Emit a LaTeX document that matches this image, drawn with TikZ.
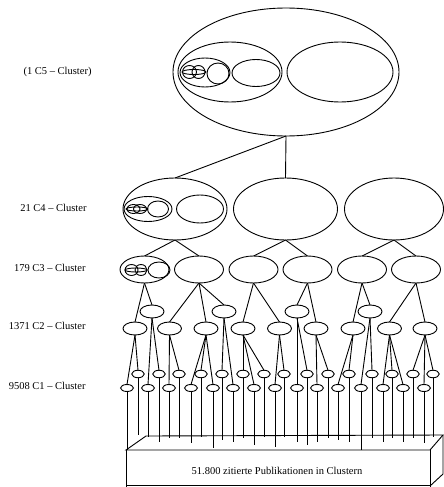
\documentclass[tikz,border=0pt]{standalone}
\usepackage{fontspec}
\setmainfont{Liberation Serif}
\usetikzlibrary{shapes.geometric}
\begin{document}
\begin{tikzpicture}[x=1pt,y=-1pt,line width=0.9pt,
  cl/.style={draw, ellipse, inner sep=0pt, outer sep=0pt},
  cfive/.style={cl, minimum width=226pt, minimum height=128pt},
  cfour/.style={cl, minimum width=104pt, minimum height=62pt},
  cthree/.style={cl, minimum width=49pt, minimum height=27pt},
  ctwo/.style={cl, minimum width=24pt, minimum height=13pt},
  cone/.style={cl, minimum width=12.5pt, minimum height=7.5pt},
  lab/.style={font=\fontsize{10.5}{12}\selectfont, anchor=east, inner sep=0pt},
  boxtxt/.style={font=\fontsize{10.5}{12}\selectfont, inner sep=0pt}]
\useasboundingbox (0,0) rectangle (444,487);

% ---------- labels
\node[lab] (t5) at (92,72) {(1 C5 -- Cluster)};
\node[lab] (t4) at (87,208) {21 C4 -- Cluster};
\node[lab] (t3) at (86,268) {179 C3 -- Cluster};
\node[lab] (t2) at (86,326) {1371 C2 -- Cluster};
\node[lab] (t1) at (86,386) {9508 C1 -- Cluster};

% ---------- C5
\node[cfive] (c5) at (286,72) {};
\draw (230,72) ellipse [x radius=52pt, y radius=30pt];
\draw (340,72) ellipse [x radius=53pt, y radius=30pt];
\draw (205,72.5) ellipse [x radius=25pt, y radius=14.5pt];
\draw (256,73) ellipse [x radius=24pt, y radius=13.5pt];
\draw (218,73.5) ellipse [x radius=11pt, y radius=10.5pt];
\draw (189.5,72) ellipse [x radius=7pt, y radius=6.5pt];
\draw (198.5,72) ellipse [x radius=6.5pt, y radius=6.5pt];
\draw (194,72) ellipse [x radius=12pt, y radius=2.5pt];

% ---------- C4
\node[cfour] (c4a) at (175,209) {};
\node[cfour] (c4b) at (285.5,209) {};
\node[cfour, minimum width=99pt] (c4c) at (394,209) {};
\draw (148,209) ellipse [x radius=24pt, y radius=12.5pt];
\draw (200,209) ellipse [x radius=23.5pt, y radius=14pt];
\draw (158,209) ellipse [x radius=10.5pt, y radius=8pt];
\draw (133.5,209) ellipse [x radius=6.5pt, y radius=4.5pt];
\draw (140,209) ellipse [x radius=6.5pt, y radius=4.5pt];
\draw (137,209) ellipse [x radius=11pt, y radius=2pt];

% ---------- C3
\foreach \x/\n in {144.5/a,199/b,253.5/c,307.5/d,362/e,416/f}
  \node[cthree] (c3\n) at (\x,269.5) {};
\draw (159,270) ellipse [x radius=11pt, y radius=8pt];
\draw (131.5,270) ellipse [x radius=6.5pt, y radius=5.5pt];
\draw (141,270) ellipse [x radius=6pt, y radius=5.5pt];
\draw (136,270) ellipse [x radius=11pt, y radius=2pt];

% ---------- C2
\foreach \x [count=\i] in {152,224,297,370}
  \node[ctwo] (u\i) at (\x,311.5) {};
\foreach \x [count=\i] in {135,169.5,206,243,279.5,316,353,389.5,425}
  \node[ctwo] (l\i) at (\x,328.5) {};

% ---------- C1
\foreach \x [count=\i] in {138,159,179,201,222,243,264,284,307,328,349,372,392,413,433}
  \node[cone] (p\i) at (\x,374) {};
\foreach \x [count=\i] in {127,148,169,191,213,233,254,275,297,317,338,361,383,403,424}
  \node[cone, minimum width=13pt, minimum height=7pt] (q\i) at (\x,388) {};

% ---------- connectors
\draw (c5.south) -- (c4a.north);
\draw (c5.south) -- (c4b.north);
\foreach \a/\b in {c4a/c3a,c4a/c3b,c4b/c3c,c4b/c3d,c4c/c3e,c4c/c3f,
  c3a/l1,c3a/u1,c3b/l2,c3b/l3,c3b/u2,c3c/l4,c3c/l5,c3d/u3,c3d/l6,
  c3e/l7,c3e/u4,c3f/l8,c3f/l9}
  \draw (\a.south) -- (\b.north);
\foreach \a/\b in {l1/q1,l1/p1,u1/q2,u1/p2,l2/q3,l2/p3,l3/q4,l3/p4,l3/q5,
  u2/p5,u2/q6,l4/p6,l4/q7,l4/p7,l5/q8,l5/p8,u3/q9,u3/p9,l6/q10,l6/p10,
  l7/q11,l7/p11,u4/q12,u4/p12,l8/q13,l8/p13,l8/q14,l9/p14,l9/q15,l9/p15}
  \draw (\a.south) -- (\b.north);

% ---------- lines down to the box
\foreach \i/\y in {1/435,2/442,3/438,4/437,5/440,6/438,7/437,8/437,9/445,
  10/438,11/442,12/438,13/438,14/438,15/437}
  {\coordinate (pe\i) at (p\i.south |- 0,\y); \draw (p\i.south) -- (pe\i);}
\foreach \i/\y in {1/450,2/437,3/438,4/443,5/448,6/442,7/445,8/447,9/442,
  10/442,11/440,12/450,13/442,14/442,15/443}
  {\coordinate (qe\i) at (q\i.south |- 0,\y); \draw (q\i.south) -- (qe\i);}

% ---------- box
\coordinate (fl) at (126,450);
\coordinate (fr) at (430,450);
\coordinate (bl) at (146,436);
\coordinate (br) at (443,435);
\draw (fl) -- (bl) -- (br) -- (fr) -- cycle;
\draw (fl) -- (126,487);
\draw (126,485) -- (430,485);
\draw (fr) -- (430,487);
\draw (br) -- (443,474) -- (430,486);
\node[boxtxt] (btxt) at (277,470.5) {51.800 zitierte Publikationen in Clustern};
\end{tikzpicture}
\end{document}
